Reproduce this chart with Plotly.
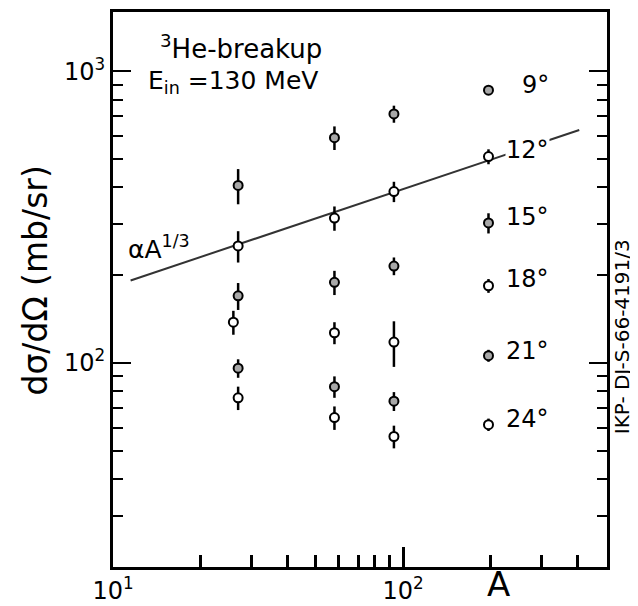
import plotly.graph_objects as go

# ---- data ----
angles = ["9°", "12°", "15°", "18°", "21°", "24°"]
filled = [True, False, True, False, True, False]
A_points = {
    "9°":  [27, 58, 93, 197],
    "12°": [27, 58, 93, 197],
    "15°": [27, 58, 93, 197],
    "18°": [26, 58, 93, 197],
    "21°": [27, 58, 93, 197],
    "24°": [27, 58, 93, 197],
}
xsec = {
    "9°":  [406, 592, 714, 861],
    "12°": [252, 314, 387, 510],
    "15°": [170, 189, 215, 302],
    "18°": [138, 127, 118, 184],
    "21°": [96, 83, 74, 106],
    "24°": [76, 65, 56, 61.5],
}
xsec_err = {
    "9°":  [56, 55, 48, 20],
    "12°": [31, 30, 31, 30],
    "15°": [18, 18, 15, 24],
    "18°": [13, 11, 21, 10],
    "21°": [7, 7, 5.5, 5],
    "24°": [7, 6, 5, 3],
}
# alpha * A^(1/3) line
line_A = [11.5, 405]
line_C = 85.0

x_major = [10, 100]
x_major_text = ["10<sup>1</sup>", "10<sup>2</sup>"]
x_minor = [20, 30, 40, 50, 60, 70, 80, 90, 200, 300, 400]
y_major = [100, 1000]
y_major_text = ["10<sup>2</sup>", "10<sup>3</sup>"]
y_minor = [30, 40, 50, 60, 70, 80, 90, 200, 300, 400, 500, 600, 700, 800, 900]

FONT = "DejaVu Sans"
OFF = 8                      # page body margin of the browser
W, H = 638 - OFF, 606 - OFF  # figure size so it fits the window
L, R, T, B = 113, 607, 9, 567   # plot area in window pixels


def px(x):
    return (x - L) / (R - L)


def py(y):
    return (B - y) / (B - T)


fig = go.Figure()

fig.add_trace(go.Scatter(
    x=line_A, y=[line_C * a ** (1 / 3) for a in line_A],
    mode="lines", line=dict(color="#333", width=2), showlegend=False,
    hoverinfo="skip"))

for ang, f in zip(angles, filled):
    fig.add_trace(go.Scatter(
        x=A_points[ang], y=xsec[ang], mode="markers", name=ang,
        showlegend=False,
        marker=dict(symbol="circle", size=9,
                    color="#a8a8a8" if f else "white",
                    line=dict(color="black", width=2)),
        error_y=dict(type="data", array=xsec_err[ang], visible=True,
                     color="black", thickness=2.5, width=0),
    ))

ann = []
ann.append(dict(text="<sup>3</sup>He-breakup", x=px(158), y=py(44), xanchor="left",
                yanchor="middle", font=dict(size=26)))
ann.append(dict(text="E<sub>in</sub> =130 MeV", x=px(146), y=py(79), xanchor="left",
                yanchor="middle", font=dict(size=25)))
ann.append(dict(text="αA<sup>1/3</sup>", x=px(126), y=py(246), xanchor="left",
                yanchor="middle", font=dict(size=25)))
label_y = [82, 148, 215, 277, 350, 418]
for ang, yy in zip(angles, label_y):
    ann.append(dict(text=ang, x=px(550), y=py(yy), xanchor="right", yanchor="middle",
                    font=dict(size=24), bgcolor="white" if ang == "12°" else None,
                    borderpad=0))
ann.append(dict(text="A", x=px(498), y=py(584), xanchor="center", yanchor="middle",
                font=dict(size=34)))
ann.append(dict(text="dσ/dΩ (mb/sr)", x=px(36), y=py(279), xanchor="center",
                yanchor="middle", textangle=-90, font=dict(size=33)))
ann.append(dict(text="IKP- DJ-S-66-4191/3", x=px(622), y=py(336), xanchor="center",
                yanchor="middle", textangle=-90, font=dict(size=20)))
for a in ann:
    a.update(xref="paper", yref="paper", showarrow=False)
    a["font"].update(family=FONT, color="black")

fig.update_layout(
    width=W, height=H,
    margin=dict(l=L - OFF, r=(638 - R), t=T - OFF, b=(606 - B)),
    paper_bgcolor="white", plot_bgcolor="white",
    font=dict(family=FONT, color="black"),
    annotations=ann,
    xaxis=dict(type="log", range=[1, 2.703], showgrid=False, zeroline=False,
               showline=True, linecolor="black", linewidth=3, mirror=True,
               ticks="inside", ticklen=20, tickwidth=2.5, tickcolor="black",
               tickvals=x_major, ticktext=x_major_text,
               tickfont=dict(size=24, family=FONT),
               minor=dict(tickvals=x_minor, ticks="inside", ticklen=12,
                          tickwidth=2.5, tickcolor="black", showgrid=False)),
    yaxis=dict(type="log", range=[1.301, 3.203], showgrid=False, zeroline=False,
               showline=True, linecolor="black", linewidth=3, mirror="ticks",
               ticks="inside", ticklen=18, tickwidth=2, tickcolor="black",
               tickvals=y_major, ticktext=y_major_text,
               tickfont=dict(size=24, family=FONT),
               minor=dict(tickvals=y_minor, ticks="inside", ticklen=10,
                          tickwidth=2, tickcolor="black", showgrid=False)),
)

fig.write_html("out.html")
